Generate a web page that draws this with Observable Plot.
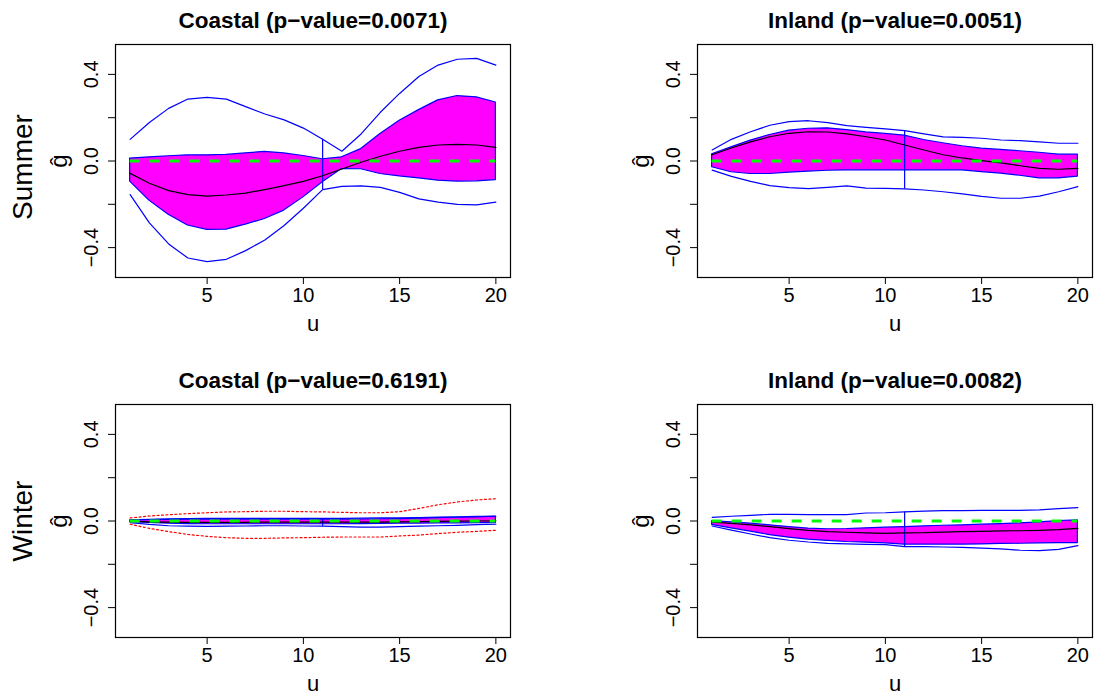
<!DOCTYPE html>
<html>
<head>
<meta charset="utf-8">
<script src="https://cdn.jsdelivr.net/npm/d3@7"></script>
<script src="https://cdn.jsdelivr.net/npm/@observablehq/plot@0.6"></script>
<style>
  html, body { margin: 0; padding: 0; background: #fff; }
  #wrap { position: relative; width: 1094px; height: 695px; overflow: hidden; background: #fff; }
  .cell { position: absolute; }
</style>
</head>
<body>
<div id="wrap"></div>
<script>
// ---------- data ----------
const u = [1,2,3,4,5,6,7,8,9,10,11,12,13,14,15,16,17,18,19,20];
const xTicks = [5, 10, 15, 20];
const yTicks = [-0.4, -0.2, 0, 0.2, 0.4];
const yTickLabels = ["\u22120.4", "", "0.0", "", "0.4"];
const rowLabels = ["Summer", "Winter"];
const titles = ["Coastal (p\u2212value=0.0071)", "Inland (p\u2212value=0.0051)",
                "Coastal (p\u2212value=0.6191)", "Inland (p\u2212value=0.0082)"];

// Summer, Coastal
const scEst     = [-0.057,-0.103,-0.137,-0.155,-0.162,-0.157,-0.148,-0.132,-0.114,-0.094,-0.068,-0.037,-0.006,0.022,0.045,0.063,0.074,0.077,0.074,0.063];
const scInnerHi = [0.011,0.017,0.022,0.026,0.026,0.028,0.035,0.042,0.035,0.023,0.008,0.017,0.055,0.125,0.186,0.235,0.28,0.30,0.294,0.27];
const scInnerLo = [-0.095,-0.183,-0.248,-0.298,-0.318,-0.317,-0.294,-0.268,-0.229,-0.168,-0.098,-0.037,-0.038,-0.06,-0.071,-0.08,-0.091,-0.095,-0.094,-0.088];
const scOuterHi = [0.10,0.178,0.243,0.286,0.294,0.286,0.251,0.217,0.19,0.152,0.10,0.045,0.125,0.225,0.312,0.39,0.443,0.47,0.474,0.443];
const scOuterLo = [-0.155,-0.286,-0.383,-0.448,-0.465,-0.454,-0.414,-0.365,-0.298,-0.218,-0.132,-0.117,-0.115,-0.122,-0.145,-0.175,-0.19,-0.20,-0.203,-0.19];

// Summer, Inland
const siEst     = [0.029,0.06,0.088,0.112,0.128,0.135,0.134,0.125,0.112,0.097,0.074,0.051,0.029,0.014,0.002,-0.009,-0.022,-0.034,-0.038,-0.034];
const siInnerHi = [0.031,0.063,0.094,0.12,0.14,0.149,0.151,0.143,0.132,0.125,0.117,0.097,0.082,0.068,0.057,0.051,0.045,0.038,0.029,0.029];
const siInnerLo = [-0.029,-0.052,-0.06,-0.06,-0.054,-0.049,-0.045,-0.043,-0.043,-0.043,-0.043,-0.043,-0.043,-0.043,-0.051,-0.058,-0.068,-0.08,-0.08,-0.072];
const siOuterHi = [0.051,0.10,0.135,0.165,0.182,0.186,0.177,0.163,0.155,0.148,0.14,0.125,0.111,0.109,0.105,0.097,0.094,0.088,0.082,0.082];
const siOuterLo = [-0.042,-0.071,-0.094,-0.114,-0.123,-0.128,-0.122,-0.115,-0.125,-0.126,-0.129,-0.134,-0.142,-0.152,-0.163,-0.172,-0.172,-0.162,-0.142,-0.118];

// Winter, Coastal
const wcEst     = [-0.002,-0.004,-0.005,-0.006,-0.006,-0.006,-0.006,-0.005,-0.005,-0.005,-0.005,-0.005,-0.005,-0.005,-0.004,-0.003,-0.002,-0.001,0.0,0.001];
const wcInnerHi = [0.003,0.004,0.005,0.006,0.006,0.006,0.006,0.006,0.006,0.006,0.006,0.006,0.007,0.008,0.009,0.011,0.013,0.015,0.017,0.02];
const wcInnerLo = [-0.005,-0.009,-0.012,-0.014,-0.015,-0.015,-0.015,-0.015,-0.015,-0.015,-0.015,-0.015,-0.014,-0.013,-0.012,-0.012,-0.011,-0.011,-0.01,-0.01];
const wcOuterHi = [0.005,0.008,0.01,0.011,0.012,0.012,0.012,0.012,0.012,0.012,0.012,0.012,0.013,0.014,0.015,0.016,0.018,0.019,0.021,0.022];
const wcOuterLo = [-0.008,-0.016,-0.022,-0.024,-0.025,-0.024,-0.023,-0.022,-0.022,-0.023,-0.024,-0.026,-0.028,-0.028,-0.026,-0.024,-0.022,-0.02,-0.017,-0.015];
const wcNullHi  = [0.014,0.023,0.029,0.034,0.038,0.042,0.043,0.045,0.045,0.043,0.042,0.04,0.038,0.038,0.043,0.058,0.075,0.088,0.097,0.103];
const wcNullLo  = [-0.015,-0.034,-0.049,-0.062,-0.071,-0.077,-0.08,-0.08,-0.078,-0.077,-0.075,-0.074,-0.074,-0.074,-0.069,-0.065,-0.058,-0.052,-0.048,-0.043];

// Winter, Inland
const wiEst     = [-0.005,-0.011,-0.018,-0.026,-0.035,-0.043,-0.049,-0.052,-0.055,-0.057,-0.055,-0.054,-0.051,-0.049,-0.048,-0.046,-0.045,-0.043,-0.04,-0.034];
const wiInnerHi = [0.0,-0.006,-0.012,-0.02,-0.028,-0.035,-0.038,-0.037,-0.034,-0.031,-0.028,-0.025,-0.022,-0.02,-0.017,-0.014,-0.011,-0.006,0.0,0.003];
const wiInnerLo = [-0.018,-0.034,-0.049,-0.065,-0.077,-0.086,-0.092,-0.097,-0.1,-0.103,-0.109,-0.109,-0.109,-0.109,-0.108,-0.106,-0.105,-0.103,-0.102,-0.102];
const wiOuterHi = [0.017,0.022,0.026,0.031,0.031,0.029,0.029,0.029,0.037,0.038,0.042,0.046,0.048,0.048,0.049,0.049,0.049,0.051,0.057,0.062];
const wiOuterLo = [-0.023,-0.042,-0.06,-0.077,-0.089,-0.097,-0.103,-0.106,-0.108,-0.109,-0.118,-0.118,-0.12,-0.122,-0.125,-0.129,-0.135,-0.137,-0.131,-0.114];

// ---------- drawing ----------
const FONT = "'Liberation Sans', Arial, Helvetica, sans-serif";
const BLUE = "#0000ff", MAG = "#ff00ff", GREEN = "#00ff00", RED = "#ff0000";

function rowsOf(est, ih, il, oh, ol, nh, nl) {
  return u.map((x, i) => ({u: x, est: est[i], ih: ih[i], il: il[i], oh: oh[i], ol: ol[i],
                           nh: nh ? nh[i] : null, nl: nl ? nl[i] : null}));
}

function panel(cfg) {
  const rows = rowsOf(cfg.est, cfg.ih, cfg.il, cfg.oh, cfg.ol, cfg.nh, cfg.nl);
  const tickRows = yTicks.map((v, i) => ({v, s: yTickLabels[i]}));
  const marks = [
    Plot.areaY(rows, {x: "u", y1: "il", y2: "ih", fill: MAG, stroke: BLUE, strokeWidth: 1.2}),
    Plot.lineY(rows, {x: "u", y: "oh", stroke: BLUE, strokeWidth: 1.2}),
    Plot.lineY(rows, {x: "u", y: "ol", stroke: BLUE, strokeWidth: 1.2}),
    Plot.ruleX([rows[10]], {x: "u", y1: "ol", y2: "oh", stroke: BLUE, strokeWidth: 1.2}),
  ];
  if (cfg.nh) {
    marks.push(Plot.lineY(rows, {x: "u", y: "nh", stroke: RED, strokeWidth: 1.2, strokeDasharray: "2,2.5"}));
    marks.push(Plot.lineY(rows, {x: "u", y: "nl", stroke: RED, strokeWidth: 1.2, strokeDasharray: "2,2.5"}));
  }
  marks.push(
    Plot.lineY(rows, {x: "u", y: "est", stroke: "black", strokeWidth: 1.2}),
    Plot.ruleY([0], {x1: u[0], x2: u[u.length - 1], stroke: GREEN, strokeWidth: 3, strokeDasharray: "10,10"}),
    Plot.frame({stroke: "black", strokeWidth: 1.2}),
    Plot.axisX({ticks: xTicks, tickSize: 7, tickPadding: 3, fontSize: 20, label: null, tickFormat: d => String(d)}),
    Plot.axisY({ticks: yTicks, tickSize: 7, label: null, tickFormat: () => ""}),
    Plot.text(tickRows, {y: "v", text: "s", frameAnchor: "left", dx: -24, rotate: -90,
                         textAnchor: "middle", lineAnchor: "middle", fontSize: 20}),
    Plot.text([cfg.title], {frameAnchor: "top", dy: -17, lineAnchor: "bottom", textAnchor: "middle",
                            fontSize: 22.5, fontWeight: "bold"}),
    Plot.text(["u"], {frameAnchor: "bottom", dy: 53, lineAnchor: "bottom", textAnchor: "middle", fontSize: 22}),
    Plot.text(["\u011D"], {frameAnchor: "left", dx: -56, rotate: -90, textAnchor: "middle",
                           lineAnchor: "middle", fontSize: 24}),
  );
  if (cfg.rowLabel) {
    marks.push(Plot.text([cfg.rowLabel], {frameAnchor: "left", dx: -92, dy: cfg.rowDy || 0, rotate: -90,
                                          textAnchor: "middle", lineAnchor: "middle", fontSize: 28}));
  }
  const chart = Plot.plot({
    width: cfg.w, height: cfg.h,
    marginLeft: cfg.ml, marginRight: cfg.mr, marginTop: cfg.mt, marginBottom: cfg.mb,
    x: {domain: [0.24, 20.76]},
    y: {domain: [-0.538, 0.538]},
    style: {fontFamily: FONT, background: "white", color: "black", overflow: "visible"},
    marks
  });
  const div = document.createElement("div");
  div.className = "cell";
  div.style.left = cfg.left + "px";
  div.style.top = cfg.top + "px";
  div.appendChild(chart);
  document.getElementById("wrap").appendChild(div);
}

panel({left: 0, top: 0, w: 547, h: 347, ml: 115, mr: 37, mt: 44, mb: 70,
       est: scEst, ih: scInnerHi, il: scInnerLo, oh: scOuterHi, ol: scOuterLo,
       title: titles[0], rowLabel: rowLabels[0], rowDy: 6});
panel({left: 547, top: 0, w: 547, h: 347, ml: 150, mr: 2, mt: 44, mb: 70,
       est: siEst, ih: siInnerHi, il: siInnerLo, oh: siOuterHi, ol: siOuterLo,
       title: titles[1]});
panel({left: 0, top: 347, w: 547, h: 348, ml: 115, mr: 37, mt: 57, mb: 58,
       est: wcEst, ih: wcInnerHi, il: wcInnerLo, oh: wcOuterHi, ol: wcOuterLo, nh: wcNullHi, nl: wcNullLo,
       title: titles[2], rowLabel: rowLabels[1]});
panel({left: 547, top: 347, w: 547, h: 348, ml: 150, mr: 2, mt: 57, mb: 58,
       est: wiEst, ih: wiInnerHi, il: wiInnerLo, oh: wiOuterHi, ol: wiOuterLo,
       title: titles[3]});
</script>
</body>
</html>
